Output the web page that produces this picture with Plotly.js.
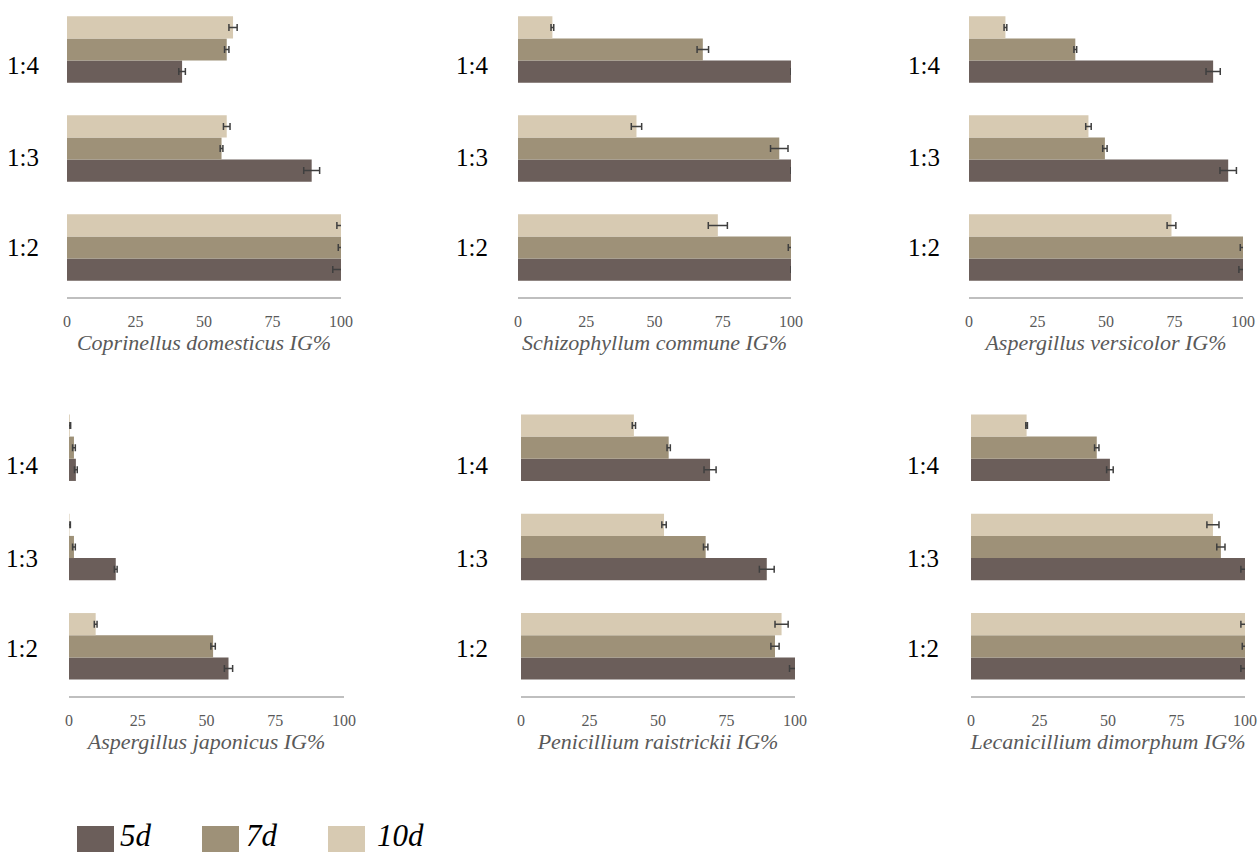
<!DOCTYPE html>
<html>
<head>
<meta charset="utf-8">
<script src="https://cdn.plot.ly/plotly-3.0.1.min.js"></script>
<style>html,body{margin:0;padding:0;background:#fff;}#chart{width:1259px;height:854px;}</style>
</head>
<body>
<div id="chart"></div>
<script>
// ---------- DATA ----------
const categories = ["1:2", "1:3", "1:4"];
const seriesNames = ["5d", "7d", "10d"];
const panelTitles = [
  "Coprinellus domesticus IG%",
  "Schizophyllum commune IG%",
  "Aspergillus versicolor IG%",
  "Aspergillus japonicus IG%",
  "Penicillium raistrickii IG%",
  "Lecanicillium dimorphum IG%"
];
const xTicks = [0, 25, 50, 75, 100];

// values in category order [1:2, 1:3, 1:4]
const coprinellus_5d  = [100, 89.3, 42.0];
const coprinellus_7d  = [100, 56.4, 58.3];
const coprinellus_10d = [100, 58.3, 60.6];
const coprinellus_err5  = [3.0, 2.9, 1.2];
const coprinellus_err7  = [1.0, 0.5, 0.8];
const coprinellus_err10 = [1.5, 1.2, 1.5];

const schizophyllum_5d  = [100, 100, 100];
const schizophyllum_7d  = [100, 95.7, 67.7];
const schizophyllum_10d = [73.2, 43.4, 12.6];
const schizophyllum_err5  = [0, 0, 0];
const schizophyllum_err7  = [1.0, 3.2, 2.1];
const schizophyllum_err10 = [3.5, 1.9, 0.5];

const versicolor_5d  = [100, 94.6, 89.1];
const versicolor_7d  = [100, 49.6, 38.8];
const versicolor_10d = [73.9, 43.6, 13.3];
const versicolor_err5  = [1.5, 3.0, 2.6];
const versicolor_err7  = [1.0, 0.8, 0.5];
const versicolor_err10 = [1.6, 1.0, 0.5];

const japonicus_5d  = [58.0, 17.0, 2.5];
const japonicus_7d  = [52.4, 1.8, 1.8];
const japonicus_10d = [9.7, 0.2, 0.3];
const japonicus_err5  = [1.5, 0.5, 0.5];
const japonicus_err7  = [0.8, 0.5, 0.5];
const japonicus_err10 = [0.5, 0.3, 0.3];

const penicillium_5d  = [100, 89.7, 69.0];
const penicillium_7d  = [92.7, 67.4, 53.9];
const penicillium_10d = [95.1, 52.2, 41.2];
const penicillium_err5  = [2.0, 2.7, 2.2];
const penicillium_err7  = [1.5, 0.8, 0.6];
const penicillium_err10 = [2.4, 0.8, 0.6];

const lecanicillium_5d  = [100, 100, 50.7];
const lecanicillium_7d  = [100, 91.2, 45.9];
const lecanicillium_10d = [100, 88.3, 20.3];
const lecanicillium_err5  = [1.5, 1.5, 1.2];
const lecanicillium_err7  = [1.0, 1.5, 0.8];
const lecanicillium_err10 = [1.5, 2.2, 0.3];

const panels = [
  [[coprinellus_5d, coprinellus_err5], [coprinellus_7d, coprinellus_err7], [coprinellus_10d, coprinellus_err10]],
  [[schizophyllum_5d, schizophyllum_err5], [schizophyllum_7d, schizophyllum_err7], [schizophyllum_10d, schizophyllum_err10]],
  [[versicolor_5d, versicolor_err5], [versicolor_7d, versicolor_err7], [versicolor_10d, versicolor_err10]],
  [[japonicus_5d, japonicus_err5], [japonicus_7d, japonicus_err7], [japonicus_10d, japonicus_err10]],
  [[penicillium_5d, penicillium_err5], [penicillium_7d, penicillium_err7], [penicillium_10d, penicillium_err10]],
  [[lecanicillium_5d, lecanicillium_err5], [lecanicillium_7d, lecanicillium_err7], [lecanicillium_10d, lecanicillium_err10]]
];

// ---------- STYLE / LAYOUT ----------
const W = 1259, H = 854;
const colors = ["#6b5e5a", "#9e9178", "#d7cab2"];
const serif = "Liberation Serif";
// pixel boxes of each plot area [x0, x1, yTop, yBottom]
const boxes = [
  [67, 341, 0, 297], [518, 791, 0, 297], [969, 1243, 0, 297],
  [69, 344, 398, 696], [521, 795, 398, 696], [971, 1245, 398, 696]
];
const labelGap = [26, 28, 27, 29, 31, 30];
const rowLabelShift = [[0, 9, 16], [0, 9, 16], [0, 9, 16], [2, 11, 18], [2, 11, 18], [2, 11, 18]];

const traces = [];
const layout = {
  width: W, height: H,
  margin: {l: 0, r: 0, t: 0, b: 0},
  paper_bgcolor: "#ffffff", plot_bgcolor: "#ffffff",
  barmode: "group", bargap: 0.33, bargroupgap: 0,
  showlegend: false,
  font: {family: serif},
  annotations: [], shapes: []
};

panels.forEach((panel, p) => {
  const n = p === 0 ? "" : String(p + 1);
  const b = boxes[p];
  panel.forEach((s, k) => {
    traces.push({
      type: "bar", orientation: "h",
      name: seriesNames[k],
      x: s[0], y: categories,
      xaxis: "x" + n, yaxis: "y" + n,
      marker: {color: colors[k], line: {width: 0}},
      error_x: {type: "data", array: s[1], visible: true, color: "#3f3f3f", thickness: 1.5, width: 3.5},
      hoverinfo: "x+name"
    });
  });
  layout["xaxis" + n] = {
    domain: [b[0] / W, b[1] / W],
    anchor: "y" + n,
    range: [0, 100],
    tickmode: "array", tickvals: xTicks, ticktext: xTicks.map(String),
    showgrid: false, zeroline: false,
    showline: true, linecolor: "#bfbfbf", linewidth: 1.5,
    ticks: "", ticklabelstandoff: 9,
    tickfont: {family: serif, size: 16, color: "#595959"},
    title: {text: "<i>" + panelTitles[p] + "</i>", font: {family: serif, size: 22, color: "#595959"}, standoff: 2},
    fixedrange: true
  };
  layout["yaxis" + n] = {
    domain: [1 - b[3] / H, 1 - b[2] / H],
    anchor: "x" + n,
    type: "category", categoryorder: "array", categoryarray: categories,
    range: [-0.5, 2.5],
    showgrid: false, zeroline: false, showline: false,
    showticklabels: false, ticks: "",
    fixedrange: true
  };
  categories.forEach((c, i) => {
    layout.annotations.push({
      text: c, x: 0, xref: "x" + n + " domain", xanchor: "right", xshift: -labelGap[p],
      y: c, yref: "y" + n, yanchor: "middle", yshift: -rowLabelShift[p][i],
      showarrow: false, font: {family: serif, size: 25, color: "#000000"}
    });
  });
});

// legend (drawn with shapes + text)
const legendBoxes = [[77, 114], [202, 239], [328, 365]];
const legendTextX = [118, 244, 375];
seriesNames.forEach((s, k) => {
  layout.shapes.push({
    type: "rect", xref: "paper", yref: "paper",
    x0: legendBoxes[k][0] / W, x1: legendBoxes[k][1] / W,
    y0: 1 - 852 / H, y1: 1 - 826 / H,
    fillcolor: colors[k], line: {width: 0}
  });
  layout.annotations.push({
    text: "<i>" + s + "</i>", xref: "paper", yref: "paper",
    x: legendTextX[k] / W, xanchor: "left", y: 1 - 835 / H, yanchor: "middle",
    showarrow: false, font: {family: serif, size: 31, color: "#000000"}
  });
});

Plotly.newPlot("chart", traces, layout, {displayModeBar: false, staticPlot: true});
</script>
</body>
</html>
